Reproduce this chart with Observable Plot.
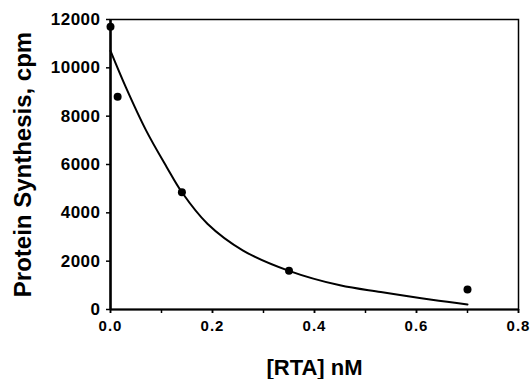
<!DOCTYPE html>
<html>
<head>
<meta charset="utf-8">
<script src="https://cdn.jsdelivr.net/npm/d3@7"></script>
<script src="https://cdn.jsdelivr.net/npm/@observablehq/plot@0.6"></script>
<style>
  html, body { margin: 0; padding: 0; background: #fff; }
  svg g[aria-label="x-axis tick label"] text { letter-spacing: 1px; }
  svg g[aria-label="y-axis tick label"] text { letter-spacing: 0.5px; }
  svg g[aria-label="x-title"] text { letter-spacing: 2px; }
  svg g[aria-label="y-title"] text { letter-spacing: 1.2px; }
</style>
</head>
<body>
<div id="chart"></div>
<script>
// Measured points
const rta = [0, 0.014, 0.14, 0.35, 0.70];
const synthesis = [11700, 8800, 4850, 1600, 830];

// Fitted curve
const curveX = [0, 0.03, 0.07, 0.11, 0.14, 0.19, 0.26, 0.35, 0.45, 0.53, 0.63, 0.70];
const curveY = [10700, 9200, 7400, 5900, 4850, 3550, 2440, 1600, 1000, 720, 400, 210];

// Ticks
const yTicks = [0, 2000, 4000, 6000, 8000, 10000, 12000];
const xMinorTicks = [0, 0.1, 0.2, 0.3, 0.4, 0.5, 0.6, 0.7, 0.8];
const xLabelTicks = [0, 0.2, 0.4, 0.6, 0.8];

const xTitle = "[RTA] nM";
const yTitle = "Protein Synthesis, cpm";

const points = rta.map((x, i) => ({x, y: synthesis[i]}));
const curve = curveX.map((x, i) => ({x, y: curveY[i]}));

const chart = Plot.plot({
  width: 531,
  height: 379,
  marginLeft: 110,
  marginRight: 13,
  marginTop: 19,
  marginBottom: 70,
  style: {fontFamily: "'Liberation Sans', Arial, sans-serif", fontWeight: "bold", color: "black", background: "white"},
  x: {domain: [0, 0.8]},
  y: {domain: [0, 12000]},
  marks: [
    Plot.frame({stroke: "black", strokeWidth: 1.5}),
    Plot.axisY({ticks: yTicks, tickSize: 4, tickPadding: 6, fontSize: 17, label: null, tickFormat: d => String(d), strokeWidth: 1.5}),
    Plot.axisX({ticks: xMinorTicks, tickSize: 4, text: null, label: null, strokeWidth: 1.5}),
    Plot.axisX({ticks: xLabelTicks, tickSize: 4, tickPadding: 7, fontSize: 15, label: null, tickFormat: d3.format(".1f"), strokeWidth: 1.5}),
    Plot.ruleX([0], {stroke: "black", strokeWidth: 2.5}),
    Plot.ruleY([0], {stroke: "black", strokeWidth: 2}),
    Plot.line(curve, {x: "x", y: "y", curve: "catmull-rom", stroke: "black", strokeWidth: 2}),
    Plot.dot(points, {x: "x", y: "y", r: 4, fill: "black", stroke: "none"}),
    Plot.text([xTitle], {text: d => d, frameAnchor: "bottom", dy: 65, fontSize: 22, fontWeight: "bold", fill: "black", ariaLabel: "x-title"}),
    Plot.text([yTitle], {text: d => d, frameAnchor: "left", textAnchor: "middle", dx: -87, rotate: -90, fontSize: 24, fontWeight: "bold", fill: "black", ariaLabel: "y-title"})
  ]
});
document.getElementById("chart").appendChild(chart);
</script>
</body>
</html>
